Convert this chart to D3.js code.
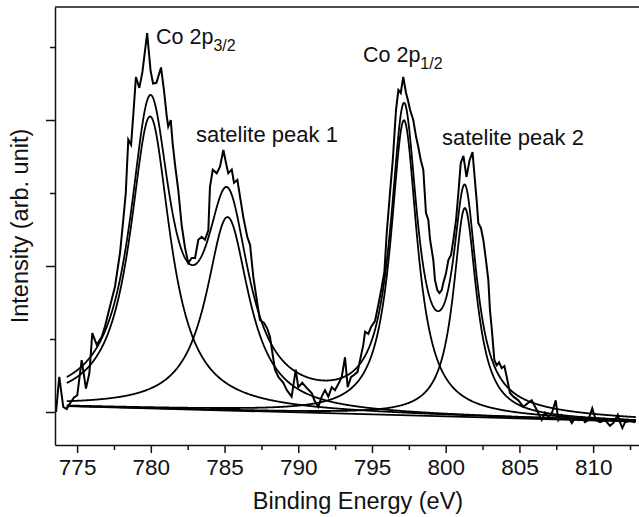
<!DOCTYPE html>
<html>
<head>
<meta charset="utf-8">
<script src="https://cdn.jsdelivr.net/npm/d3@7"></script>
<style>
  html, body { margin: 0; padding: 0; background: #fff; }
  svg { display: block; }
  text { font-family: "Liberation Sans", Arial, Helvetica, sans-serif; fill: #111; }
</style>
</head>
<body>
<svg id="chart" width="639" height="517"></svg>
<script>
// Co 2p XPS spectrum: measured counts (binding energy in eV, intensity in arb. units)
const rawEnergy = [
  773.57, 773.79, 774.06, 774.29, 774.52, 774.79, 775.01, 775.31, 775.60, 775.83,
  776.03, 776.33, 776.67, 776.89, 777.12, 777.57, 777.91, 778.13, 778.30, 778.47,
  778.66, 778.81, 778.99, 779.22, 779.43, 779.75, 779.98, 780.15, 780.38, 780.69,
  780.89, 781.08, 781.18, 781.35, 781.48, 781.64, 781.86, 782.09, 782.32, 782.54,
  782.77, 783.00, 783.22, 783.45, 783.67, 783.90, 784.01, 784.20, 784.47, 784.69,
  784.92, 785.10, 785.25, 785.49, 785.64, 785.87, 786.05, 786.27, 786.54, 786.73,
  786.95, 787.22, 787.40, 787.68, 787.88, 788.08, 788.42, 788.65, 788.99, 789.22,
  789.55, 789.83, 790.00, 790.27, 790.57, 790.91, 791.09, 791.36, 791.59, 791.81,
  792.04, 792.27, 792.49, 792.76, 792.95, 793.17, 793.35, 793.58, 793.80, 794.02,
  794.41, 794.53, 794.75, 794.93, 795.21, 795.43, 795.66, 795.84, 796.00, 796.22,
  796.41, 796.63, 796.79, 796.95, 797.12, 797.31, 797.44, 797.58, 797.80, 797.99,
  798.14, 798.31, 798.48, 798.66, 798.82, 798.94, 799.16, 799.27, 799.43, 799.57,
  799.73, 799.84, 800.02, 800.18, 800.36, 800.52, 800.70, 800.86, 801.02, 801.20,
  801.41, 801.62, 801.82, 801.96, 802.10, 802.21, 802.39, 802.55, 802.73, 802.89,
  803.00, 803.12, 803.30, 803.46, 803.62, 803.80, 803.98, 804.14, 804.36, 804.59,
  804.93, 805.26, 805.56, 805.83, 806.17, 806.51, 806.74, 806.96, 807.21, 807.46,
  807.64, 807.87, 808.09, 808.32, 808.55, 808.77, 809.00, 809.22, 809.45, 809.67,
  809.94, 810.18, 810.47, 810.81, 811.14, 811.37, 811.67, 811.82, 811.98, 812.16,
  812.50, 812.84
];
const rawIntensity = [
  0.00, 0.48, 0.07, 0.04, 0.12, 0.20, 0.23, 0.71, 0.32, 0.53,
  1.08, 0.92, 1.03, 1.17, 1.36, 1.72, 2.18, 2.63, 3.00, 3.73,
  3.66, 4.07, 4.59, 4.44, 4.66, 5.19, 4.68, 4.50, 4.51, 4.72,
  4.41, 4.05, 3.91, 4.00, 3.68, 3.39, 3.04, 2.56, 2.25, 2.04,
  2.11, 2.11, 2.36, 2.40, 2.36, 2.49, 3.08, 3.32, 3.27, 3.36,
  3.59, 3.41, 3.27, 3.32, 3.14, 3.18, 2.95, 2.67, 2.40, 2.29,
  1.85, 1.49, 1.26, 1.22, 1.15, 1.03, 0.58, 0.48, 0.40, 0.30,
  0.21, 0.58, 0.34, 0.40, 0.33, 0.26, 0.16, 0.07, 0.21, 0.30,
  0.21, 0.34, 0.30, 0.40, 0.48, 0.75, 0.34, 0.48, 0.51, 0.55,
  0.92, 1.10, 1.07, 1.16, 1.25, 1.47, 1.71, 1.92, 2.45, 3.00,
  3.45, 4.14, 4.41, 4.37, 4.59, 4.37, 4.27, 4.14, 4.00, 3.77,
  3.63, 3.45, 3.32, 2.73, 2.63, 2.36, 2.08, 1.81, 1.67, 1.63,
  1.67, 1.77, 1.90, 2.08, 2.15, 2.36, 2.63, 3.00, 3.41, 3.51,
  3.22, 3.45, 3.56, 3.22, 2.90, 2.59, 2.52, 2.36, 2.08, 1.81,
  1.40, 1.15, 0.71, 0.64, 0.68, 0.60, 0.63, 0.48, 0.26, 0.21,
  0.16, 0.07, 0.12, 0.16, 0.03, -0.11, -0.01, -0.07, -0.01, 0.16,
  -0.11, -0.04, -0.08, -0.07, -0.15, -0.08, -0.11, -0.07, -0.14, -0.11,
  0.05, -0.11, -0.14, -0.11, -0.19, -0.15, -0.04, -0.14, -0.22, -0.14,
  -0.12, -0.14
];

// Fitted peak components (Lorentzian line shapes on a linear background)
const peakNames   = ["Co 2p3/2", "satelite peak 1", "Co 2p1/2", "satelite peak 2"];
const peakCenters = [779.95, 785.20, 797.17, 801.30];
const peakHeights = [4.00, 2.65, 4.04, 2.86];
const peakHWHM    = [1.66, 1.77, 1.10, 0.96];

// Linear background over the fitted range
const bgEnergy    = [774.3, 812.9];
const bgIntensity = [0.08, -0.13];

// Axis ticks
const xMajorTicks = [775, 780, 785, 790, 795, 800, 805, 810];
const xMinorTicks = [777.5, 782.5, 787.5, 792.5, 797.5, 802.5, 807.5, 812.5];
const yMajorTicks = [0, 2, 4];
const yMinorTicks = [1, 3, 5];

const xTitle = "Binding Energy (eV)";
const yTitle = "Intensity (arb. unit)";

(function draw() {
  // Layout
  const plotLeft = 55, plotRight = 639, plotTop = 7, plotBottom = 445;

  const svg = d3.select("#chart");

  const x = d3.scaleLinear().domain([773.5, 813.11]).range([plotLeft, plotRight]);
  const y = d3.scaleLinear().domain([-0.452, 5.548]).range([plotBottom, plotTop]);

  // Background and component models
  const bgScale = d3.scaleLinear().domain(bgEnergy).range(bgIntensity);
  const lorentz = (e, i) => {
    const w = peakHWHM[i];
    const d = e - peakCenters[i];
    return peakHeights[i] * w * w / (d * d + w * w);
  };
  const grid = d3.range(bgEnergy[0], bgEnergy[1] + 1e-9, 0.04);

  const line = d3.line().x(d => x(d[0])).y(d => y(d[1]));

  const plot = svg.append("g");

  // background
  plot.append("path")
    .datum(bgEnergy.map((e, i) => [e, bgIntensity[i]]))
    .attr("d", line)
    .attr("fill", "none").attr("stroke", "#000").attr("stroke-width", 1.8);

  // individual components
  peakCenters.forEach((c, i) => {
    plot.append("path")
      .datum(grid.map(e => [e, bgScale(e) + lorentz(e, i)]))
      .attr("d", line)
      .attr("fill", "none").attr("stroke", "#000").attr("stroke-width", 1.8);
  });

  // envelope (sum of components)
  plot.append("path")
    .datum(grid.map(e => [e, bgScale(e) + peakCenters.reduce((s, c, i) => s + lorentz(e, i), 0)]))
    .attr("d", line)
    .attr("fill", "none").attr("stroke", "#000").attr("stroke-width", 1.8);

  // measured spectrum
  plot.append("path")
    .datum(rawEnergy.map((e, i) => [e, rawIntensity[i]]))
    .attr("d", line)
    .attr("fill", "none").attr("stroke", "#000").attr("stroke-width", 2)
    .attr("stroke-linejoin", "miter");

  // Axes
  const axisStyle = g => {
    g.selectAll("path, line").attr("stroke", "#111").attr("stroke-width", 1.5);
  };

  const xAxis = svg.append("g").attr("transform", `translate(0,${plotBottom})`)
    .call(d3.axisBottom(x).tickValues(xMajorTicks).tickSize(8).tickSizeOuter(0).tickPadding(6)
      .tickFormat(d3.format("d")));
  xAxis.call(axisStyle);
  xAxis.selectAll("text").attr("font-size", "22.5px").attr("fill", "#111")
    .attr("font-family", '"Liberation Sans", Arial, sans-serif');

  const xMinor = svg.append("g").attr("transform", `translate(0,${plotBottom})`)
    .call(d3.axisBottom(x).tickValues(xMinorTicks).tickSize(5).tickFormat(""));
  xMinor.select(".domain").remove();
  xMinor.call(axisStyle);

  const yAxis = svg.append("g").attr("transform", `translate(${plotLeft},0)`)
    .call(d3.axisLeft(y).tickValues(yMajorTicks).tickSize(9).tickSizeOuter(0).tickFormat(""));
  yAxis.call(axisStyle);

  const yMinor = svg.append("g").attr("transform", `translate(${plotLeft},0)`)
    .call(d3.axisLeft(y).tickValues(yMinorTicks).tickSize(5).tickFormat(""));
  yMinor.select(".domain").remove();
  yMinor.call(axisStyle);

  // top frame line
  svg.append("line")
    .attr("x1", plotLeft).attr("x2", plotRight).attr("y1", plotTop).attr("y2", plotTop)
    .attr("stroke", "#111").attr("stroke-width", 1.5);

  // Axis titles
  svg.append("text")
    .attr("x", 358).attr("y", 509)
    .attr("text-anchor", "middle").attr("font-size", "23.5px")
    .text(xTitle);

  svg.append("text")
    .attr("transform", `translate(28,${(plotTop + plotBottom) / 2}) rotate(-90)`)
    .attr("text-anchor", "middle").attr("font-size", "23.5px")
    .text(yTitle);

  // Peak annotations
  function peakLabel(xPos, yPos, main, sub, size) {
    const t = svg.append("text").attr("x", xPos).attr("y", yPos).attr("font-size", size + "px");
    t.append("tspan").text(main);
    if (sub) {
      t.append("tspan").attr("font-size", "16px").attr("dy", 7).text(sub);
    }
  }
  peakLabel(x(peakCenters[0]) + 6, 44, "Co 2p", "3/2", 21.5);
  peakLabel(196, 142, "satelite peak 1", null, 22);
  peakLabel(x(peakCenters[2]) - 41, 62, "Co 2p", "1/2", 21.5);
  peakLabel(442, 145, "satelite peak 2", null, 22);
})();
</script>
</body>
</html>
